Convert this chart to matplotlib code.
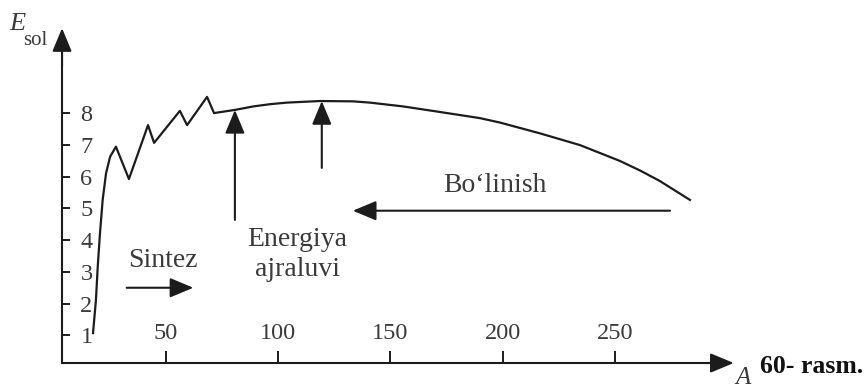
import matplotlib
matplotlib.use("Agg")
import matplotlib.pyplot as plt

plt.rcParams["font.family"] = ["Liberation Serif", "DejaVu Serif"]

# binding energy curve
mass_number = [17.6, 18.9, 19.7, 20.7, 21.9, 23.4, 25.2, 27.8, 33.6, 42.1, 44.8,
               56.3, 59.5, 68.4, 71.5, 80.8, 89.0, 96.4, 103.9, 118.7, 133.4,
               141.0, 155.7, 170.7, 190.0, 198.9, 216.7, 234.5, 243.4, 252.3,
               261.2, 270.0, 283.5]
energy = [1.07, 2.11, 3.16, 4.22, 5.27, 6.11, 6.63, 6.95, 5.93, 7.63, 7.07,
          8.08, 7.63, 8.52, 8.01, 8.11, 8.22, 8.29, 8.34, 8.39, 8.38,
          8.34, 8.22, 8.06, 7.85, 7.71, 7.37, 7.00, 6.75, 6.50,
          6.20, 5.87, 5.27]

x_ticks = [50, 100, 150, 200, 250]
y_ticks = [1, 2, 3, 4, 5, 6, 7, 8]

# annotation arrows (tail -> head)
release_x = [80.8, 119.5]
release_tail = [4.64, 6.28]
release_head = [8.11, 8.39]
fission_x = [274.6, 133.3]
fission_y = 4.93
fusion_x = [32.6, 62.3]
fusion_y = 2.5

LINE = "#1c1c1c"
TEXT = "#3a3a3a"

fig = plt.figure(figsize=(8.66, 3.89), dpi=100)
ax = fig.add_axes([0, 0, 1, 1])
ax.set_xlim(-23.83, 361.9)
ax.set_ylim(-0.694, 11.577)

for side in ["top", "right"]:
    ax.spines[side].set_visible(False)
ax.spines["left"].set_position(("data", 3.8))
ax.spines["bottom"].set_position(("data", 0.126))
ax.spines["left"].set_bounds(0.126, 10.0)
ax.spines["bottom"].set_bounds(3.8, 296)
for side in ["left", "bottom"]:
    ax.spines[side].set_linewidth(1.5)
    ax.spines[side].set_color(LINE)

ax.set_xticks(x_ticks)
ax.set_yticks(y_ticks)
ax.tick_params(axis="x", direction="in", length=8.6, width=1.4, pad=-29,
               labelsize=17.5, colors=LINE, labelcolor=TEXT)
ax.tick_params(axis="y", direction="in", length=6, width=1.4, pad=-22,
               labelsize=17.5, colors=LINE, labelcolor=TEXT)

# axis arrow heads
head = dict(arrowstyle="-|>,head_length=0.72,head_width=0.3", color=LINE,
            lw=1.5, shrinkA=0, shrinkB=0, mutation_scale=20)
ax.annotate("", xy=(3.8, 10.69), xytext=(3.8, 9.5), arrowprops=head)
ax.annotate("", xy=(303, 0.126), xytext=(290, 0.126), arrowprops=head)

ax.plot(mass_number, energy, color=LINE, lw=1.6)

for x, y0, y1 in zip(release_x, release_tail, release_head):
    ax.annotate("", xy=(x, y1), xytext=(x, y0), arrowprops=head)
ax.annotate("", xy=(fission_x[1], fission_y), xytext=(fission_x[0], fission_y),
            arrowprops=head)
ax.annotate("", xy=(fusion_x[1], fusion_y), xytext=(fusion_x[0], fusion_y),
            arrowprops=head)

ax.text(48.5, 3.15, "Sintez", ha="center", va="baseline", fontsize=20, color=TEXT)
ax.text(108.7, 3.82, "Energiya", ha="center", va="baseline", fontsize=20, color=TEXT)
ax.text(108.7, 2.87, "ajraluvi", ha="center", va="baseline", fontsize=20, color=TEXT)
ax.text(196.7, 5.53, "Bo\u2018linish", ha="center", va="baseline", fontsize=20, color=TEXT)

ax.text(-19.8, 10.63, "E", style="italic", ha="left", va="baseline",
        fontsize=19, color=TEXT)
ax.text(-13.6, 10.16, "sol", ha="left", va="baseline", fontsize=15, color=TEXT)
ax.text(303.6, -0.685, "A", style="italic", ha="left", va="bottom",
        fontsize=18, color=TEXT)
ax.text(314.7, -0.19, "60- rasm.", fontweight="bold", ha="left", va="baseline",
        fontsize=18.5, color="#111111")

fig.savefig("out.png", dpi=100)
